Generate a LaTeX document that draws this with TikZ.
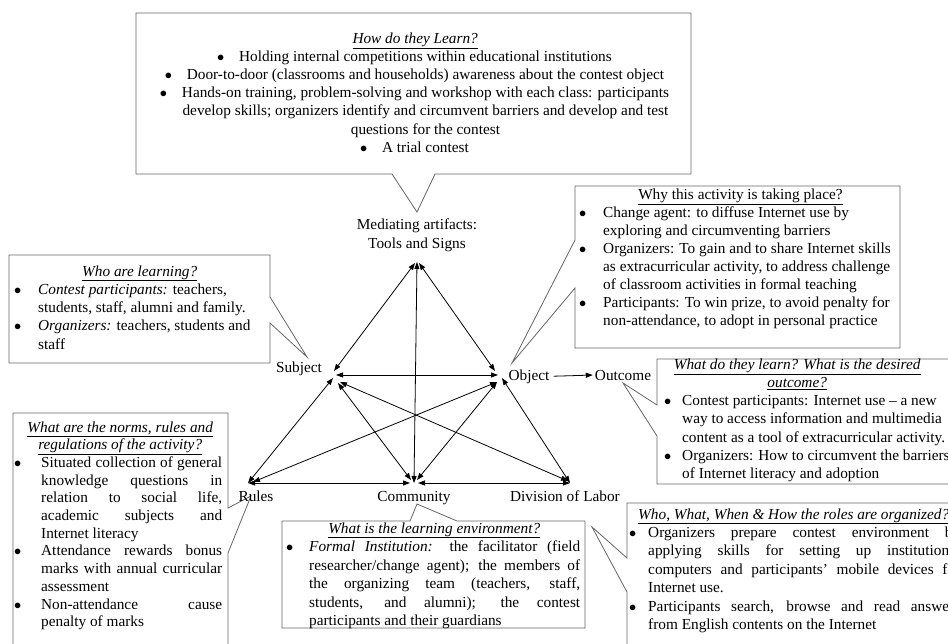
\documentclass[tikz,border=0pt]{standalone}
\usepackage{fontspec}
\setmainfont{Liberation Serif}
\usetikzlibrary{arrows.meta}
\newcommand\bl[1]{\makebox[#1][l]{\hspace*{-1.5pt}$\bullet$}}
\newcommand\hd[1]{\underline{\textit{#1}}}
\newcommand\jl[2]{\makebox[#1][s]{#2}}
\newcommand\diafont{\fontsize{15.3}{18.2}\selectfont}
\newcommand\tblock[3]{\parbox[t]{#1}{\fontsize{15.3}{#2}\selectfont\setlength\parindent{0pt}#3}}
\tikzset{
  callout/.style={draw=black!60, line width=0.8pt, fill=white},
  link/.style={draw=black, line width=0.8pt, {Triangle[length=7pt,width=5pt]}-{Triangle[length=7pt,width=5pt]}},
  onelink/.style={draw=black, line width=0.8pt, -{Triangle[length=7pt,width=5pt]}},
  lbl/.style={inner sep=0pt, font=\diafont, anchor=base},
  txt/.style={anchor=base west, inner sep=0pt},
}
\begin{document}
\begin{tikzpicture}[x=1pt,y=-1pt]
\fill[white] (0,0) rectangle (948,643);
\useasboundingbox (0,0) rectangle (948,643);

% ---- callout shapes
\draw[callout] (136,13) -- (691,13) -- (691,174) -- (435,174) -- (417,212) -- (392,174) -- (136,174) -- cycle;
\draw[callout] (575,186) -- (900,186) -- (900,348) -- (575,348) -- (575,288) -- (512,363) -- (575,240) -- cycle;
\draw[callout] (9,255) -- (270,255) -- (270,297) -- (307,357) -- (270,323) -- (270,363) -- (9,363) -- cycle;
\draw[callout] (657,359) -- (960,359) -- (960,484) -- (657,484) -- (657,436) -- (623,383) -- (657,405) -- cycle;
\draw[callout] (13,413) -- (228,413) -- (228,508) -- (251,496) -- (228,553) -- (228,660) -- (13,660) -- cycle;
\draw[callout] (282,521) -- (410,521) -- (417,504) -- (457,521) -- (585,521) -- (585,628) -- (282,628) -- cycle;
\draw[callout] (627,503) -- (960,503) -- (960,660) -- (627,660) -- (627,592) -- (592,527) -- (627,558) -- cycle;

% ---- callout texts
\node[txt] (howtxt) at (145,43) {\tblock{540pt}{18.2pt}{\centering
\hd{How do they Learn?}\\
\bl{20.5pt}Holding internal competitions within educational institutions\\
\bl{20.5pt}Door-to-door (classrooms and households) awareness about the contest object\\
\bl{20.5pt}Hands-on training, problem-solving and workshop with each class: participants\\
\hspace*{20.5pt}develop skills; organizers identify and circumvent barriers and develop and test\\
\hspace*{20.5pt}questions for the contest\\
\bl{20.5pt}A trial contest}};

\node[txt] (whytxt) at (580.5,199) {\tblock{360pt}{18.1pt}{%
\makebox[319.5pt]{\underline{Why this activity is taking place?}}\\
\bl{22.5pt}Change agent: to diffuse Internet use by\\
\hspace*{22.5pt}exploring and circumventing barriers\\
\bl{22.5pt}Organizers: To gain and to share Internet skills\\
\hspace*{22.5pt}as extracurricular activity, to address challenge\\
\hspace*{22.5pt}of classroom activities in formal teaching\\
\bl{22.5pt}Participants: To win prize, to avoid penalty for\\
\hspace*{22.5pt}non-attendance, to adopt in personal practice}};

\node[txt] (whotxt) at (15.5,276) {\tblock{290pt}{18.3pt}{%
\makebox[248pt]{\hd{Who are learning?}}\\
\bl{22.5pt}\textit{Contest participants:} teachers,\\
\hspace*{22.5pt}students, staff, alumni and family.\\
\bl{22.5pt}\textit{Organizers:} teachers, students and\\
\hspace*{22.5pt}staff}};

\node[txt] (outtxt) at (665.5,369) {\tblock{340pt}{18.3pt}{%
\makebox[263pt]{\hd{What do they learn? What is the desired}}\\
\makebox[263pt]{\hd{outcome?}}\\
\bl{16.5pt}Contest participants: Internet use – a new\\
\hspace*{16.5pt}way to access information and multimedia\\
\hspace*{16.5pt}content as a tool of extracurricular activity.\\
\bl{16.5pt}Organizers: How to circumvent the barriers\\
\hspace*{16.5pt}of Internet literacy and adoption}};

\node[txt] (rultxt) at (15.5,432) {\tblock{240pt}{17.7pt}{%
\makebox[209pt]{\hd{What are the norms, rules and}}\\
\makebox[209pt]{\hd{regulations of the activity?}}\\
\bl{25.5pt}\jl{181pt}{Situated collection of general}\\
\hspace*{25.5pt}\jl{181pt}{knowledge questions in}\\
\hspace*{25.5pt}\jl{181pt}{relation to social life,}\\
\hspace*{25.5pt}\jl{181pt}{academic subjects and}\\
\hspace*{25.5pt}Internet literacy\\
\bl{25.5pt}\jl{181pt}{Attendance rewards bonus}\\
\hspace*{25.5pt}\jl{181pt}{marks with annual curricular}\\
\hspace*{25.5pt}assessment\\
\bl{25.5pt}\jl{181pt}{Non-attendance cause}\\
\hspace*{25.5pt}penalty of marks}};

\node[txt] (comtxt) at (287.5,533) {\tblock{330pt}{18.5pt}{%
\makebox[293pt]{\hd{What is the learning environment?}}\\
\bl{21.5pt}\jl{271pt}{\textit{Formal Institution:} the facilitator (field}\\
\hspace*{21.5pt}\jl{271pt}{researcher/change agent); the members of}\\
\hspace*{21.5pt}\jl{271pt}{the organizing team (teachers, staff,}\\
\hspace*{21.5pt}\jl{271pt}{students, and alumni); the contest}\\
\hspace*{21.5pt}participants and their guardians}};

\node[txt] (divtxt) at (630.5,519) {\tblock{380pt}{18.4pt}{%
\hspace*{7.5pt}\hd{Who, What, When \& How the roles are organized?}\\
\bl{17.5pt}\jl{312pt}{Organizers prepare contest environment by}\\
\hspace*{17.5pt}\jl{312pt}{applying skills for setting up institutional}\\
\hspace*{17.5pt}\jl{312pt}{computers and participants’ mobile devices for}\\
\hspace*{17.5pt}Internet use.\\
\bl{17.5pt}\jl{312pt}{Participants search, browse and read answers}\\
\hspace*{17.5pt}from English contents on the Internet}};

% ---- triangle labels
\node[lbl, align=center] (med) at (417,248) {Mediating artifacts:\\Tools and Signs};
\node[lbl] (subj) at (299,372) {Subject};
\node[lbl] (obj) at (529,380) {Object};
\node[lbl] (outc) at (623,380) {Outcome};
\node[lbl] (rul) at (256,501) {Rules};
\node[lbl] (com) at (414,501) {Community};
\node[lbl] (div) at (565,501) {Division of Labor};

% ---- connector ends
\coordinate (Mt) at (417,262);
\coordinate (Ml) at (415,263);
\coordinate (Mr) at (419,263);
\coordinate (Sa) at (334,371);
\coordinate (Sb) at (336,375);
\coordinate (Sc) at (333,378);
\coordinate (Sd) at (338,383);
\coordinate (Se) at (340,382);
\coordinate (Oa) at (495,371);
\coordinate (Ob) at (498,375);
\coordinate (Oc) at (502,378);
\coordinate (Od) at (497,382);
\coordinate (Ra) at (248,483);
\coordinate (Rb) at (253,482);
\coordinate (Ca) at (414,483);
\coordinate (Cl) at (410,483);
\coordinate (Cr) at (418,483);
\coordinate (Cu) at (411,480);
\coordinate (Cv) at (417,480);
\coordinate (Da) at (570,483);
\coordinate (Db) at (568,481);

\draw[link] (Ml) -- (Sa);
\draw[link] (Mr) -- (Oa);
\draw[link] (Mt) -- (Ca);
\draw[link] (Sb) -- (Ob);
\draw[link] (Sc) -- (Ra);
\draw[link] (Oc) -- (Da);
\draw[link] (Ra) -- (Cl);
\draw[link] (Cr) -- (Da);
\draw[link] (Sd) -- (Cu);
\draw[link] (Se) -- (Db);
\draw[link] (Od) -- (Rb);
\draw[link] (Od) -- (Cv);
\draw[onelink, shorten <=4pt, shorten >=2pt] (obj.east) -- (outc.west);
\end{tikzpicture}
\end{document}
